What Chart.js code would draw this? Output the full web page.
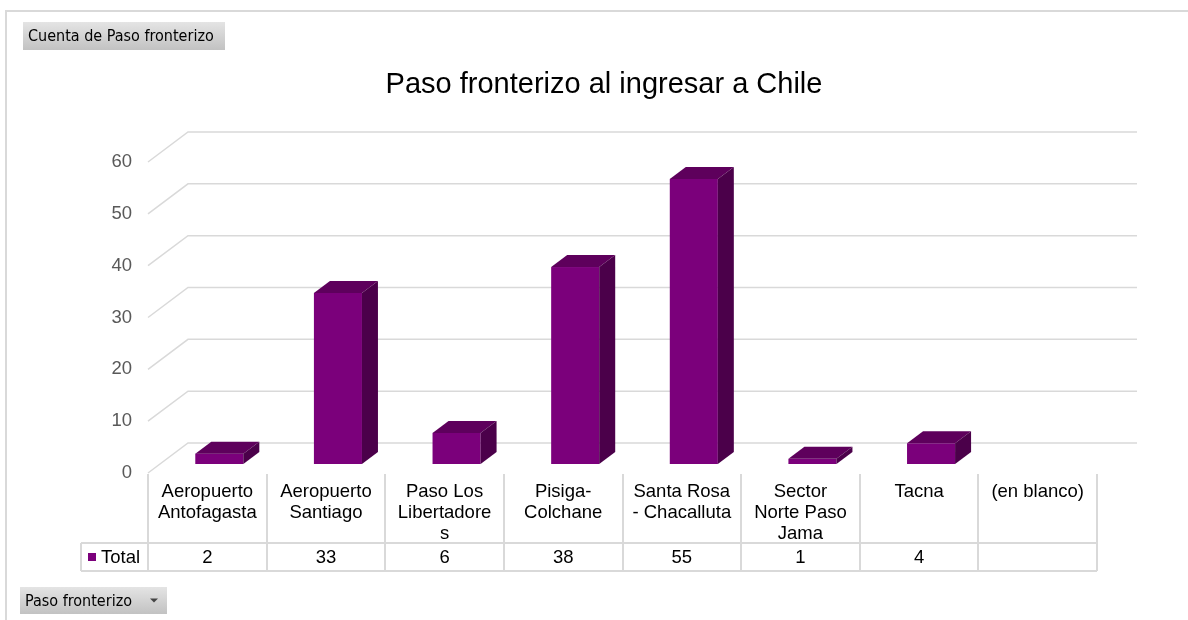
<!DOCTYPE html>
<html>
<head>
<meta charset="utf-8">
<script src="https://cdn.jsdelivr.net/npm/chart.js@4"></script>
<style>
  body { margin: 0; background: #fff; }
  #wrap { position: relative; width: 1188px; height: 620px; overflow: hidden; }
  #frame { position: absolute; left: 5px; top: 10px; width: 1300px; height: 700px; border: 2px solid #d9d9d9; }
  canvas { position: absolute; left: 0; top: 0; }
</style>
</head>
<body>
<div id="wrap">
  <div id="frame"></div>
  <canvas id="chart" width="1188" height="620"></canvas>
</div>
<script>
// pivot data: count of entries per border crossing
const categories = [
  ['Aeropuerto', 'Antofagasta'],
  ['Aeropuerto', 'Santiago'],
  ['Paso Los', 'Libertadore', 's'],
  ['Pisiga-', 'Colchane'],
  ['Santa Rosa', '- Chacalluta'],
  ['Sector', 'Norte Paso', 'Jama'],
  ['Tacna'],
  ['(en blanco)']
];
const totals = [2, 33, 6, 38, 55, 1, 4, null];
const yTicks = [0, 10, 20, 30, 40, 50, 60];
const seriesName = 'Total';
const chartTitle = 'Paso fronterizo al ingresar a Chile';

const FONT = "'Liberation Sans', Arial, sans-serif";
const BTN_FONT = "'DejaVu Sans Condensed', 'DejaVu Sans', sans-serif";
const GRID = '#d9d9d9';
const COL = { front: '#7b007b', top: '#5e005c', side: '#4b004a' };
const DEPTH = { x: 40, y: -30 };       // floor depth, front edge -> back wall
const BAR_Z = 0.3, BAR_D = 0.4;        // bar position / thickness along the depth

function button(ctx, x, y, w, h, text, arrow) {
  const g = ctx.createLinearGradient(0, y, 0, y + h);
  g.addColorStop(0, '#e4e4e4');
  g.addColorStop(1, '#c2c2c2');
  ctx.fillStyle = g;
  ctx.fillRect(x, y, w, h);
  ctx.fillStyle = '#000';
  ctx.font = '16px ' + BTN_FONT;
  ctx.textAlign = 'left';
  ctx.textBaseline = 'middle';
  ctx.fillText(text, x + 5, y + h / 2 + 1);
  if (arrow) {
    const ax = x + w - 13, ay = y + h / 2;
    ctx.fillStyle = '#444';
    ctx.beginPath();
    ctx.moveTo(ax - 4, ay - 2);
    ctx.lineTo(ax + 4, ay - 2);
    ctx.lineTo(ax, ay + 2);
    ctx.closePath();
    ctx.fill();
  }
}

const walls = {
  id: 'walls',
  beforeDatasetsDraw(chart) {
    const { ctx, chartArea: a, scales: { y } } = chart;
    ctx.save();
    ctx.strokeStyle = GRID;
    ctx.lineWidth = 1.5;
    yTicks.forEach(v => {
      const py = y.getPixelForValue(v);
      ctx.beginPath();
      ctx.moveTo(a.left, py);
      ctx.lineTo(a.left + DEPTH.x, py + DEPTH.y);
      ctx.lineTo(a.right + DEPTH.x, py + DEPTH.y);
      ctx.stroke();
    });
    ctx.restore();
  },
  afterDatasetsDraw(chart) {
    const { ctx } = chart;
    const meta = chart.getDatasetMeta(0);
    const ox = DEPTH.x * BAR_Z, oy = DEPTH.y * BAR_Z;
    const dx = DEPTH.x * BAR_D, dy = DEPTH.y * BAR_D;
    ctx.save();
    meta.data.forEach((el, i) => {
      if (totals[i] == null) return;
      const p = el.getProps(['x', 'y', 'base', 'width'], true);
      const x0 = p.x - p.width / 2 + ox, x1 = p.x + p.width / 2 + ox;
      const yt = p.y + oy, yb = p.base + oy;
      // front
      ctx.fillStyle = COL.front;
      ctx.fillRect(x0, yt, x1 - x0, yb - yt);
      // top
      ctx.fillStyle = COL.top;
      ctx.beginPath();
      ctx.moveTo(x0, yt); ctx.lineTo(x1, yt);
      ctx.lineTo(x1 + dx, yt + dy); ctx.lineTo(x0 + dx, yt + dy);
      ctx.closePath(); ctx.fill();
      // right side
      ctx.fillStyle = COL.side;
      ctx.beginPath();
      ctx.moveTo(x1, yt); ctx.lineTo(x1 + dx, yt + dy);
      ctx.lineTo(x1 + dx, yb + dy); ctx.lineTo(x1, yb);
      ctx.closePath(); ctx.fill();
    });
    ctx.restore();
  },
  afterDraw(chart) {
    const { ctx, chartArea: a, scales: { x, y } } = chart;
    ctx.save();

    // title
    ctx.fillStyle = '#000';
    ctx.font = '29px ' + FONT;
    ctx.textAlign = 'center';
    ctx.textBaseline = 'middle';
    ctx.fillText(chartTitle, 604, 85);

    // value axis labels
    ctx.fillStyle = '#595959';
    ctx.font = '18.5px ' + FONT;
    ctx.textAlign = 'right';
    yTicks.forEach(v => ctx.fillText(String(v), a.left - 16, y.getPixelForValue(v)));

    // data table under the plot
    const colW = (a.right - a.left) / categories.length;
    const top = a.bottom + 1, rowY = 543, bot = 571, keyLeft = 81;
    ctx.strokeStyle = GRID;
    ctx.lineWidth = 2;
    ctx.beginPath();
    for (let i = 0; i <= categories.length; i++) {
      const px = Math.round(x.getPixelForValue(i) - colW / 2);
      ctx.moveTo(px, top); ctx.lineTo(px, bot);
    }
    ctx.moveTo(keyLeft, rowY); ctx.lineTo(a.right, rowY);
    ctx.moveTo(keyLeft, bot); ctx.lineTo(a.right, bot);
    ctx.moveTo(keyLeft, rowY); ctx.lineTo(keyLeft, bot);
    ctx.stroke();

    ctx.fillStyle = '#000';
    ctx.font = '18.5px ' + FONT;
    ctx.textAlign = 'center';
    categories.forEach((lines, i) => {
      const cx = x.getPixelForValue(i);
      lines.forEach((t, k) => ctx.fillText(t, cx, 492 + k * 21));
      if (totals[i] != null) ctx.fillText(String(totals[i]), cx, 558);
    });

    // series key
    ctx.fillStyle = COL.front;
    ctx.fillRect(88, 553, 8, 8);
    ctx.fillStyle = '#000';
    ctx.textAlign = 'left';
    ctx.fillText(seriesName, 101, 558);

    // pivot field buttons
    button(ctx, 23, 22, 202, 28, 'Cuenta de Paso fronterizo', false);
    button(ctx, 20, 587, 147, 27, 'Paso fronterizo', true);

    ctx.restore();
  }
};

new Chart(document.getElementById('chart'), {
  type: 'bar',
  data: {
    labels: categories,
    datasets: [{
      label: seriesName,
      data: totals,
      backgroundColor: 'rgba(0,0,0,0)',
      barPercentage: 0.405,
      categoryPercentage: 1
    }]
  },
  options: {
    responsive: false,
    animation: false,
    layout: { padding: { left: 148, right: 91, top: 162, bottom: 147 } },
    plugins: { legend: { display: false }, tooltip: { enabled: false }, title: { display: false } },
    scales: {
      x: { display: false, offset: true },
      y: { display: false, min: 0, max: 60, ticks: { stepSize: 10 } }
    }
  },
  plugins: [walls]
});
</script>
</body>
</html>
